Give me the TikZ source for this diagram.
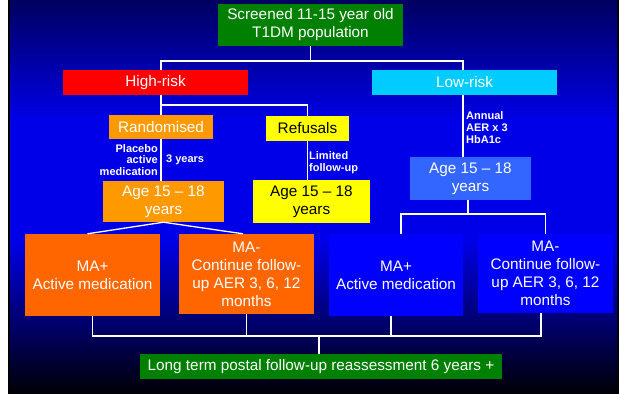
\documentclass[tikz,border=0pt]{standalone}
\usepackage{fontspec}
\setmainfont{Liberation Sans}
\usepackage{tikz}
\usetikzlibrary{calc}

\definecolor{scrgreen}{HTML}{008000}
\definecolor{hired}{HTML}{FF0000}
\definecolor{locyan}{HTML}{00CCFF}
\definecolor{rndorange}{HTML}{FF9900}
\definecolor{refyellow}{HTML}{FFFF00}
\definecolor{ageblue}{HTML}{3366FF}
\definecolor{maorange}{HTML}{FF6600}
\definecolor{mablue}{HTML}{0000FF}
\definecolor{bgtop}{RGB}{0,0,96}
\definecolor{bgmid}{RGB}{0,0,232}
\definecolor{bglow}{RGB}{0,0,140}
\definecolor{bgbot}{RGB}{0,0,6}

\begin{document}
\begin{tikzpicture}[x=1pt, y=-1pt]

                % Box and line looks, sizes are given per node
                \tikzset{
                    box/.style={inner sep=0, align=center, text=white,
                        font=\fontsize{15.3}{18}\selectfont},
                    note/.style={inner sep=0, text=white,
                        font=\fontsize{11}{11.5}\selectfont\bfseries},
                    link/.style={draw=white, line width=1.3}
                }

                \useasboundingbox (0, 0) rectangle (619, 394);

                % Slide background, dark at the top and bottom
                \begin{scope}
                    \fill[black] (8, 0) rectangle (619, 394);
                    \shade[top color=bgtop, bottom color=bgmid] (10, 0) rectangle (617, 121);
                    \fill[bgmid] (10, 120) rectangle (617, 241);
                    \shade[top color=bgmid, middle color=bglow, bottom color=bgbot] (10, 240) rectangle (617, 393);
                \end{scope}

                % Boxes
                \begin{scope}
                    \node (scr) at (310.5, 25) [box, fill=scrgreen, minimum width=185pt, minimum height=42pt] {Screened 11-15 year old\\T1DM population};
                    \node (hr) at (155.5, 82.5) [box, fill=hired, minimum width=185pt, minimum height=25pt] {High-risk};
                    \node (lr) at (464.5, 82.5) [box, fill=locyan, minimum width=185pt, minimum height=25pt] {Low-risk};
                    \node (rnd) at (161, 127) [box, fill=rndorange, minimum width=104pt, minimum height=24pt] {Randomised};
                    \node (ref) at (307.5, 128.5) [box, fill=refyellow, text=black, minimum width=83pt, minimum height=25pt] {Refusals};
                    \node (ageh) at (163.5, 201.5) [box, fill=rndorange, minimum width=121pt, minimum height=41pt] {Age 15 -- 18\\years};
                    \node (ager) at (311.5, 201.5) [box, fill=refyellow, text=black, minimum width=117pt, minimum height=43pt] {Age 15 -- 18\\years};
                    \node (agel) at (470.5, 178.5) [box, fill=ageblue, minimum width=121pt, minimum height=43pt] {Age 15 -- 18\\years};
                    \node (mahp) at (92.5, 275) [box, fill=maorange, minimum width=135pt, minimum height=82pt] {MA+\\Active medication};
                    \node (mahm) at (246.5, 274) [box, fill=maorange, minimum width=135pt, minimum height=80pt] {MA-\\Continue follow-\\up AER 3, 6, 12\\months};
                    \node (malp) at (396, 275) [box, fill=mablue, minimum width=134pt, minimum height=82pt] {MA+\\Active medication};
                    \node (malm) at (545.5, 273.5) [box, fill=mablue, minimum width=135pt, minimum height=79pt] {MA-\\Continue follow-\\up AER 3, 6, 12\\months};
                    \node (lt) at (321, 366.5) [box, fill=scrgreen, minimum width=362pt, minimum height=25pt] {Long term postal follow-up reassessment 6 years +};
                \end{scope}

                % Branch points of the tree
                \coordinate (s1) at (310.5, 61);
                \coordinate (s2) at (161, 105);
                \coordinate (s3) at (468, 214);
                \coordinate (s4) at (319, 336);

                % Connectors
                \begin{scope}[link]
                    \draw (scr.south) -- (s1);
                    \draw ([xshift=5.5pt]hr.north) |- (s1) -| ([xshift=-1.5pt]lr.north);
                    \draw (hr.south -| s2) -- (rnd.north);
                    \draw (s2) -| (ref.north);
                    \draw (rnd.south) -- (rnd.south |- ageh.north);
                    \draw (ref.south) -- (ref.south |- ager.north);
                    \draw ([xshift=-1.5pt]lr.south) -- ([xshift=-1.5pt]lr.south |- agel.north);
                    \draw (agel.south -| s3) -- (s3);
                    \draw ([xshift=5pt]malp.north) |- (s3) -| (malm.north);
                    \draw (ageh.south) -- ([xshift=-5pt]mahp.north);
                    \draw (ageh.south) -- ([xshift=-3.5pt]mahm.north);
                    \draw (mahp.south) |- (s4) -| ([xshift=-4.5pt]malm.south);
                    \draw (mahm.south) -- (mahm.south |- s4);
                    \draw ([xshift=-5pt]malp.south) -- ([xshift=-5pt]malp.south |- s4);
                    \draw (s4) -- (lt.north -| s4);
                \end{scope}

                % Labels beside the connectors
                \begin{scope}
                    \node (plc) at (158, 160) [note, anchor=east, align=right] {Placebo\\active\\medication};
                    \node (yrs) at (166, 160) [note, anchor=west] {3 years};
                    \node (lim) at (309, 162.5) [note, anchor=west, align=left] {Limited\\follow-up};
                    \node (ann) at (466, 128) [note, anchor=west, align=left, font=\fontsize{11}{12}\selectfont\bfseries] {Annual\\AER x 3\\HbA1c};
                \end{scope}

\end{tikzpicture}
\end{document}
